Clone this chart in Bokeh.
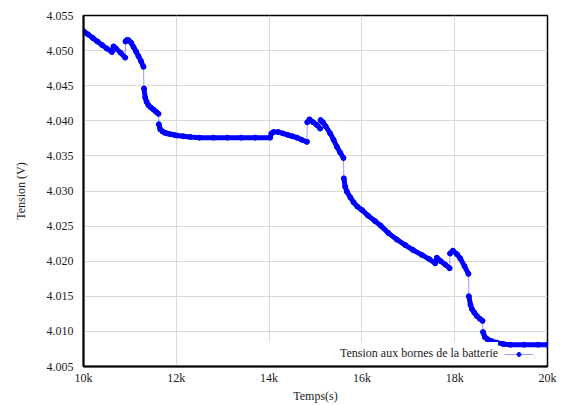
from bokeh.plotting import figure
from bokeh.models import Range1d, FixedTicker, NumeralTickFormatter, Legend, LegendItem
from bokeh.embed import file_html
from bokeh.resources import INLINE

# ---- data ----
times = [10000, 10100, 10200, 10300, 10400, 10500, 10612, 10647, 10700, 10800, 10899,
         10905, 10935, 10970, 11030, 11078, 11130, 11185, 11240, 11293,
         11303, 11330, 11360, 11401, 11450, 11509, 11560, 11616,
         11624, 11653, 11700, 11750, 11797, 11868, 11950, 12013, 12150, 12300, 12500, 12800, 13100, 13400, 13700, 14024,
         14050, 14095, 14200, 14300, 14400, 14500, 14600, 14700, 14815,
         14823, 14871, 14950, 15030, 15101,
         15110, 15160, 15220, 15317, 15390, 15461, 15530, 15603,
         15611, 15640, 15677, 15750, 15819, 15900, 16000, 16130, 16287, 16400, 16573, 16750, 16933, 17100, 17293, 17450, 17580,
         17616, 17700, 17800, 17890,
         17900, 17960, 18050, 18120, 18210, 18297,
         18305, 18340, 18370, 18420, 18478, 18540, 18600,
         18610, 18650, 18700, 18800, 18910, 19050, 19200, 19500, 19800, 20000]
volts = [4.0528, 4.0523, 4.0518, 4.0513, 4.0508, 4.0503, 4.0498, 4.0506, 4.0503, 4.0497, 4.0490,
         4.0513, 4.0515, 4.0515, 4.0511, 4.0505, 4.0499, 4.0492, 4.0485, 4.0477,
         4.0446, 4.0433, 4.0427, 4.0422, 4.0419, 4.0416, 4.0413, 4.0410,
         4.0395, 4.0388, 4.0385, 4.0383, 4.0382, 4.0381, 4.0380, 4.0379, 4.0378, 4.0377, 4.0376, 4.0376, 4.0376, 4.0376, 4.0376, 4.0376,
         4.0382, 4.0384, 4.0384, 4.0382, 4.0380, 4.0378, 4.0376, 4.0373, 4.0370,
         4.0398, 4.0402, 4.0398, 4.0394, 4.0389,
         4.0401, 4.0398, 4.0392, 4.0382, 4.0373, 4.0363, 4.0355, 4.0347,
         4.0318, 4.0306, 4.0299, 4.0291, 4.0284, 4.0278, 4.0273, 4.0265, 4.0257, 4.0251, 4.0240, 4.0231, 4.0223, 4.0216, 4.0209, 4.0203, 4.0197,
         4.0205, 4.0200, 4.0195, 4.0190,
         4.0211, 4.0215, 4.0210, 4.0204, 4.0193, 4.0182,
         4.0150, 4.0138, 4.0132, 4.0127, 4.0122, 4.0118, 4.0115,
         4.0099, 4.0092, 4.0089, 4.0086, 4.0084, 4.0082, 4.0081, 4.0081, 4.0081, 4.0081]

x_ticks = [10000, 12000, 14000, 16000, 18000, 20000]
x_tick_labels = ["10k", "12k", "14k", "16k", "18k", "20k"]
y_ticks = [4.005, 4.010, 4.015, 4.020, 4.025, 4.030, 4.035, 4.040, 4.045, 4.050, 4.055]

series_label = "Tension aux bornes de la batterie"
x_label = "Temps(s)"
y_label = "Tension (V)"

FONT = "Liberation Serif"
FS = "12px"
TXT = "#1a1a1a"

p = figure(width=561, height=405, output_backend="svg", toolbar_location=None,
           x_range=Range1d(10000, 20000), y_range=Range1d(4.005, 4.055),
           min_border_left=83, min_border_right=14, min_border_top=15, min_border_bottom=37)

p.xaxis.ticker = FixedTicker(ticks=x_ticks)
p.xaxis.major_label_overrides = {t: l for t, l in zip(x_ticks, x_tick_labels)}
p.yaxis.ticker = FixedTicker(ticks=y_ticks)
p.yaxis.formatter = NumeralTickFormatter(format="0.000")
p.xaxis.axis_label = x_label
p.yaxis.axis_label = y_label

for ax in p.axis:
    ax.major_tick_out = 0
    ax.major_tick_in = 0
    ax.minor_tick_out = 0
    ax.minor_tick_in = 0
    ax.axis_line_width = 2
    ax.axis_line_color = "black"
    ax.major_label_text_font = FONT
    ax.major_label_text_font_size = FS
    ax.major_label_text_color = TXT
    ax.axis_label_text_font = FONT
    ax.axis_label_text_font_size = FS
    ax.axis_label_text_font_style = "normal"
    ax.axis_label_text_color = TXT

p.xaxis.major_label_standoff = 4
p.xaxis.axis_label_standoff = 1
p.yaxis.major_label_standoff = 10
p.yaxis.axis_label_standoff = 16

p.grid.grid_line_color = "#d9d9d9"
p.grid.grid_line_width = 1
p.outline_line_color = "black"
p.outline_line_width = 1.5
p.outline_line_alpha = 1

# thin connector through all points (visible at jumps)
r_thin = p.line(times, volts, line_color="blue", line_width=1, line_alpha=0.4)

# thick continuous pieces, split where the value jumps within a very short time
segments = []
cur_t, cur_v = [times[0]], [volts[0]]
for i in range(1, len(times)):
    if times[i] - times[i - 1] < 18:
        segments.append((cur_t, cur_v))
        cur_t, cur_v = [], []
    cur_t.append(times[i])
    cur_v.append(volts[i])
segments.append((cur_t, cur_v))
for st, sv in segments:
    p.line(st, sv, line_color="blue", line_width=5, line_join="round", line_cap="round")
r_pts = p.scatter(times, volts, size=5, color="blue")

# legend (text on the left, glyph on the right)
r_blank = p.line([], [], line_alpha=0)

leg_text = Legend(items=[LegendItem(label=series_label, renderers=[r_blank])],
                  location=(137, 1), glyph_width=118, glyph_height=23, label_height=23,
                  label_standoff=2, padding=0, margin=0, spacing=0,
                  border_line_alpha=0, background_fill_color="white", background_fill_alpha=1,
                  label_text_font=FONT, label_text_font_size=FS, label_text_color=TXT,
                  level="underlay")
leg_glyph = Legend(items=[LegendItem(label="x", renderers=[r_thin, r_pts])],
                   location=(421, 7), glyph_width=29, glyph_height=10, label_height=10,
                   label_standoff=0, label_width=0, padding=0, margin=0, spacing=0,
                   border_line_alpha=0, background_fill_alpha=0,
                   label_text_font=FONT, label_text_font_size="8px", label_text_alpha=0)
p.add_layout(leg_text)
p.add_layout(leg_glyph)

open("out.html", "w").write(file_html(p, INLINE))
